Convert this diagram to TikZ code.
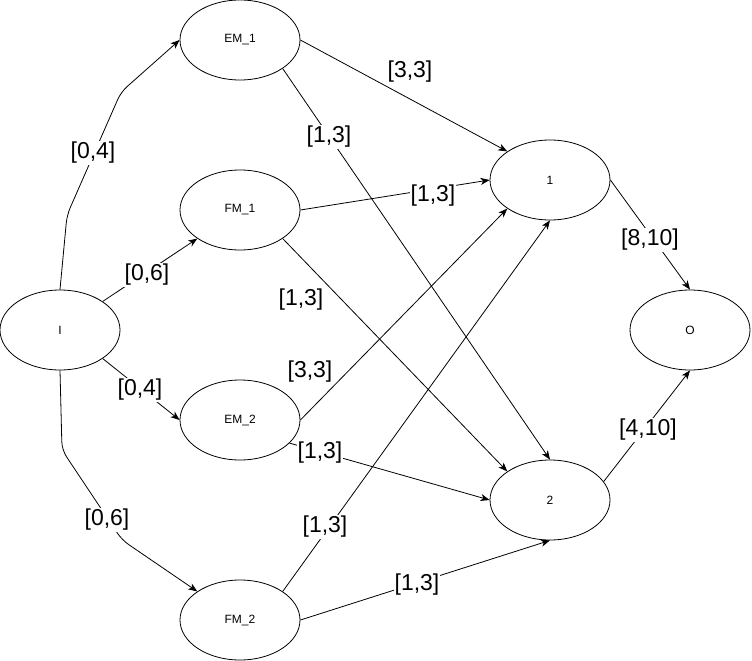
\documentclass[tikz,border=0pt]{standalone}
\usepackage{fontspec}
\setmainfont{Liberation Sans}
\usetikzlibrary{shapes.geometric,arrows.meta}
\begin{document}
\begin{tikzpicture}[x=1pt,y=-1pt,
  state/.style={ellipse,draw,line width=0.8pt,minimum width=120pt,minimum height=80pt,inner sep=0pt,font=\fontsize{12}{14}\selectfont},
  edge/.style={draw,line width=0.8pt,-{Stealth[length=9pt,width=7pt,inset=2.5pt]}},
  lab/.style={fill=white,inner sep=1pt,font=\fontsize{23}{26}\selectfont}]
\useasboundingbox (0,0) rectangle (752,661);
% nodes
\node[state] (I)   at (60,330)  {I};
\node[state] (EM1) at (240,40)  {EM\_1};
\node[state] (FM1) at (240,210) {FM\_1};
\node[state] (EM2) at (240,420) {EM\_2};
\node[state] (FM2) at (240,620) {FM\_2};
\node[state] (one) at (550,180) {1};
\node[state] (two) at (550,500) {2};
\node[state] (O)   at (690,330) {O};
% bend points
\coordinate (b1) at (67,215);
\coordinate (b2) at (121,92);
\coordinate (b3) at (62,450);
\coordinate (b4) at (122,540);
% edges
\draw[edge,rounded corners=8pt] (I.north) -- (b1) -- (b2) -- (EM1.west);
\draw[edge] (I.north east) -- (FM1.south west);
\draw[edge] (I.south east) -- (EM2.west);
\draw[edge,rounded corners=8pt] (I.south) -- (b3) -- (b4) -- (FM2.north west);
\draw[edge] (EM1.east) -- (one.north west);
\draw[edge] (EM1.south east) -- (two.north);
\draw[edge] (FM1.east) -- (one.west);
\draw[edge] (FM1.south east) -- (two.north west);
\draw[edge] (EM2.east) -- (one.south west);
\draw[edge] (EM2.-25) -- (two.west);
\draw[edge] (FM2.north east) -- (one.south);
\draw[edge] (FM2.east) -- (two.south);
\draw[edge] (one.east) -- (O.north);
\draw[edge] (two.19) -- (O.south);
% labels
\node[lab] (l1)  at (93,153)  {[0,4]};
\node[lab] (l2)  at (147,275) {[0,6]};
\node[lab] (l3)  at (140,390) {[0,4]};
\node[lab] (l4)  at (107,520) {[0,6]};
\node[lab] (l5)  at (410,72)  {[3,3]};
\node[lab] (l6)  at (329,137) {[1,3]};
\node[lab] (l7)  at (433,196) {[1,3]};
\node[lab] (l8)  at (301,300) {[1,3]};
\node[lab] (l9)  at (310,372) {[3,3]};
\node[lab] (l10) at (320,453) {[1,3]};
\node[lab] (l11) at (325,527) {[1,3]};
\node[lab] (l12) at (417,585) {[1,3]};
\node[lab] (l13) at (650,240) {[8,10]};
\node[lab] (l14) at (648,430) {[4,10]};
\end{tikzpicture}
\end{document}
